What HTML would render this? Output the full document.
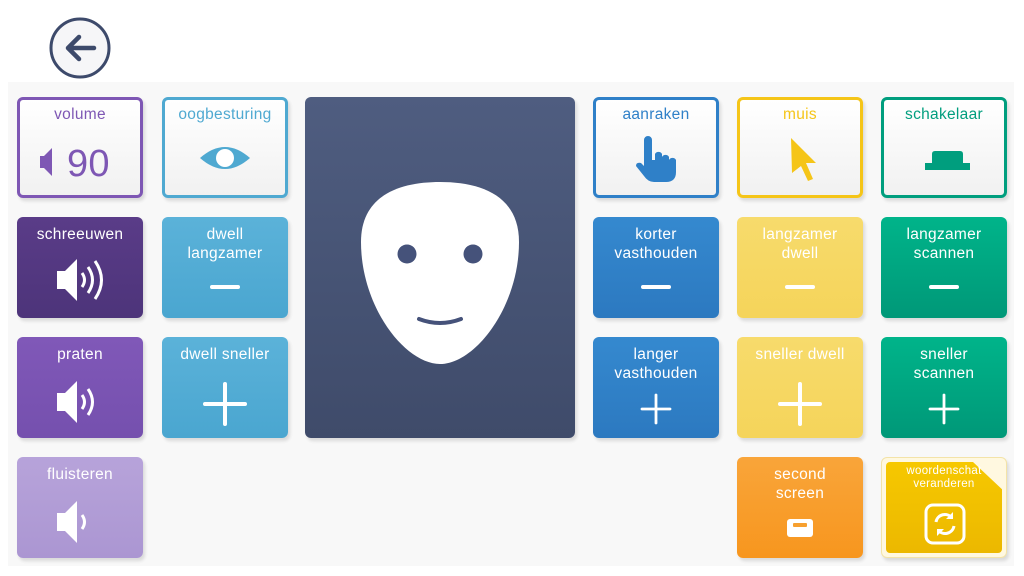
<!DOCTYPE html><html><head><style>
body{margin:0;width:1024px;height:576px;background:#fff;font-family:"Liberation Sans",sans-serif;position:relative;overflow:hidden}
.bg{position:absolute;left:8px;top:82px;width:1006px;height:484px;background:#f8f8f8}
.t{position:absolute;width:126px;height:101px;border-radius:6px;box-sizing:border-box;color:#fff;text-align:center;font-size:15.5px;line-height:19px;letter-spacing:.3px;box-shadow:2px 3px 3px rgba(0,0,0,.12)}
.t .l{padding-top:8px}
.o{background:linear-gradient(#fff,#f1f1f1);border:3px solid}
.o .l{padding-top:5px}
.ic{position:absolute;left:0;right:0;text-align:center}
.bar{position:absolute;left:48px;width:30px;height:4px;background:#fff;border-radius:2px;top:68px}
.plus{position:absolute;left:41px;top:45px;width:44px;height:44px}
.plus:before{content:"";position:absolute;left:0;top:20px;width:44px;height:4px;background:#fff;border-radius:2px}
.plus:after{content:"";position:absolute;left:20px;top:0;width:4px;height:44px;background:#fff;border-radius:2px}
.sm{transform:scale(.7)}
</style></head><body>
<div class="bg"></div>
<svg style="position:absolute;left:48px;top:16px" width="64" height="64"><circle cx="32" cy="32" r="29" fill="#f6f6f8" stroke="#3d4a6b" stroke-width="3"/><path d="M46 32H20M31 21L20 32L31 43" stroke="#3d4a6b" stroke-width="4.5" fill="none" stroke-linecap="round" stroke-linejoin="round"/></svg>

<div class="t o" style="left:17px;top:97px;border-color:#7e57b4;color:#7e57b4"><div class="l">volume</div>
<svg class="ic" style="top:42px" width="120" height="40"><path d="M20 14h4l8-8v28l-8-8h-4z" fill="#7e57b4" transform="translate(0,0)"/><text x="47" y="34" font-size="38" fill="#7e57b4" font-family="Liberation Sans">90</text></svg></div>
<div class="t o" style="left:162px;top:97px;border-color:#4fa9d1;color:#4fa9d1"><div class="l">oogbesturing</div>
<svg class="ic" style="top:44px;left:33px" width="54" height="28"><path d="M2 14Q27 -8 52 14Q27 36 2 14z" fill="#4fa9d1"/><circle cx="27" cy="14" r="9" fill="#fff"/></svg></div>

<div class="t" style="left:17px;top:217px;background:linear-gradient(#5a3c88,#4d347a)"><div class="l">schreeuwen</div>
<svg class="ic" style="top:38px;left:38px" width="54" height="50"><path d="M2 16h8l12-12v42l-12-12h-8z" fill="#fff"/><path d="M27 18q5 7 0 14M33 12q9 13 0 26M40 6q13 19 0 38" stroke="#fff" stroke-width="3" fill="none"/></svg></div>
<div class="t" style="left:162px;top:217px;background:linear-gradient(#5bb2d9,#4aa6d0)"><div class="l">dwell<br>langzamer</div><div class="bar"></div></div>

<div class="t" style="left:17px;top:337px;background:linear-gradient(#8058b8,#7550ae)"><div class="l">praten</div>
<svg class="ic" style="top:40px;left:38px" width="54" height="50"><path d="M2 16h8l12-12v42l-12-12h-8z" fill="#fff"/><path d="M27 18q5 7 0 14M33 12q9 13 0 26" stroke="#fff" stroke-width="3" fill="none"/></svg></div>
<div class="t" style="left:162px;top:337px;background:linear-gradient(#5bb2d9,#4aa6d0)"><div class="l">dwell sneller</div><div class="plus"></div></div>

<div class="t" style="left:17px;top:457px;background:linear-gradient(#b7a3da,#ab96d2)"><div class="l">fluisteren</div>
<svg class="ic" style="top:40px;left:38px" width="54" height="50"><path d="M2 16h8l12-12v42l-12-12h-8z" fill="#fff"/><path d="M27 18q5 7 0 14" stroke="#fff" stroke-width="3" fill="none"/></svg></div>

<div style="position:absolute;left:305px;top:97px;width:270px;height:341px;border-radius:6px;background:linear-gradient(#4f5d80,#3f4b6a);box-shadow:2px 3px 3px rgba(0,0,0,.12)">
<svg width="270" height="341"><path d="M135 85C95 85 56 98 56 145C56 210 100 267 135 267C170 267 214 210 214 145C214 98 175 85 135 85z" fill="#fff"/><circle cx="102" cy="157" r="9.5" fill="#45527a"/><circle cx="168" cy="157" r="9.5" fill="#45527a"/><path d="M114 222q21 8 42 0" stroke="#45527a" stroke-width="4" fill="none" stroke-linecap="round"/></svg></div>

<div class="t o" style="left:593px;top:97px;border-color:#2f80c8;color:#2f80c8"><div class="l">aanraken</div>
<svg class="ic" style="top:36px;left:40px" width="46" height="50"><path d="M8 4a4 4 0 0 1 8 0v20h3v-6a4 4 0 0 1 7 0v3a4 4 0 0 1 7 0v3a4 4 0 0 1 7 0v12q0 10-10 10h-12q-6 0-10-6l-8-10q0-4 5-3l3 3z" fill="#2f80c8"/></svg></div>
<div class="t o" style="left:737px;top:97px;border-color:#f5c518;color:#f5c518"><div class="l">muis</div>
<svg class="ic" style="top:35px;left:48px" width="34" height="50"><path d="M3 3L28 28H18L25 44L20 46L13 31L4 38z" fill="#f5c518"/></svg></div>
<div class="t o" style="left:881px;top:97px;border-color:#009e7e;color:#009e7e"><div class="l">schakelaar</div>
<svg class="ic" style="top:50px;left:40px" width="48" height="22"><path d="M8 4q0-3 3-3h25q3 0 3 3v9h7v7h-45v-7h7z" fill="#009e7e"/></svg></div>

<div class="t" style="left:593px;top:217px;background:linear-gradient(#3589cf,#2c79c0)"><div class="l">korter<br>vasthouden</div><div class="bar"></div></div>
<div class="t" style="left:737px;top:217px;background:linear-gradient(#f7db6c,#f5d45a)"><div class="l">langzamer<br>dwell</div><div class="bar"></div></div>
<div class="t" style="left:881px;top:217px;background:linear-gradient(#00b48a,#009878)"><div class="l">langzamer<br>scannen</div><div class="bar"></div></div>

<div class="t" style="left:593px;top:337px;background:linear-gradient(#3589cf,#2c79c0)"><div class="l">langer<br>vasthouden</div><div class="plus sm" style="top:50px"></div></div>
<div class="t" style="left:737px;top:337px;background:linear-gradient(#f7db6c,#f5d45a)"><div class="l">sneller dwell</div><div class="plus"></div></div>
<div class="t" style="left:881px;top:337px;background:linear-gradient(#00b48a,#009878)"><div class="l">sneller<br>scannen</div><div class="plus sm" style="top:50px"></div></div>

<div class="t" style="left:737px;top:457px;background:linear-gradient(#f9a53a,#f7961e)"><div class="l">second<br>screen</div>
<div style="position:absolute;left:50px;top:62px;width:26px;height:18px;background:#fff;border-radius:3px"><div style="position:absolute;left:6px;top:4px;width:14px;height:4px;background:#f7a030;border-radius:1px"></div></div></div>
<div class="t" style="left:881px;top:457px;background:#fff8e0;border:1px solid #f3e3a8">
<div style="position:absolute;left:4px;top:4px;right:4px;bottom:4px;background:linear-gradient(#f6c800,#ecb800);border-radius:4px;clip-path:polygon(0 0,75% 0,100% 30%,100% 100%,0 100%)"></div>
<div style="position:relative;padding-top:7px;font-size:11.5px;line-height:13px">woordenschat<br>veranderen</div>
<svg class="ic" style="top:44px;left:41px" width="44" height="44"><rect x="3" y="3" width="38" height="38" rx="7" stroke="#fff" stroke-width="3" fill="none"/><path d="M13 20a9 9 0 0 1 16-4M31 24a9 9 0 0 1-16 4" stroke="#fff" stroke-width="3" fill="none"/><path d="M30 10v7h-7zM14 34v-7h7z" fill="#fff"/></svg></div>
</body></html>
